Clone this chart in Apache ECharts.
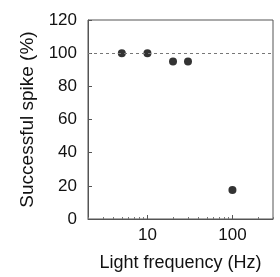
<!DOCTYPE html>
<html>
<head>
<meta charset="utf-8">
<script src="https://cdn.jsdelivr.net/npm/echarts@6/dist/echarts.min.js"></script>
<style>
  html, body { margin: 0; padding: 0; background: #fff; }
  #chart { width: 280px; height: 277px; }
</style>
</head>
<body>
<div id="chart"></div>
<script>
// values
const frequencies = [5, 10, 20, 30, 100]
const successRate = [100, 100, 95, 95, 17.5]
const majorTicks = [10, 100]
const minorTicks = [2, 3, 4, 5, 6, 7, 8, 9, 20, 30, 40, 50, 60, 70, 80, 90, 200, 300]
const referenceLevel = 100

const myChart = echarts.init(document.getElementById('chart'))
const font = 'Liberation Sans, Arial, sans-serif'

myChart.setOption({
    animation: false,
    grid: {
        left: 88, top: 20, right: 7, bottom: 51,
        show: true, borderColor: '#555', borderWidth: 1
    },
    xAxis: [
        {
            type: 'log', logBase: 10, min: 2, max: 300,
            name: 'Light frequency (Hz)',
            nameLocation: 'middle', nameGap: 35,
            nameTextStyle: { fontFamily: font, fontSize: 18, color: '#111' },
            axisLine: { lineStyle: { color: '#555' } },
            axisTick: { inside: true, length: 4, customValues: majorTicks, lineStyle: { color: '#555' } },
            axisLabel: { customValues: majorTicks, margin: 8, fontFamily: font, fontSize: 17, color: '#111' },
            splitLine: { show: false }
        },
        {
            // minor log ticks only
            type: 'log', logBase: 10, min: 2, max: 300, position: 'bottom',
            axisLine: { show: false },
            axisTick: { inside: true, length: 2, customValues: minorTicks, lineStyle: { color: '#777' } },
            axisLabel: { show: false },
            splitLine: { show: false }
        }
    ],
    yAxis: {
        type: 'value', min: 0, max: 120, interval: 20,
        name: 'Successful spike (%)',
        nameLocation: 'middle', nameGap: 45, nameRotate: 90,
        nameTextStyle: { fontFamily: font, fontSize: 19, color: '#111' },
        axisLine: { show: true, lineStyle: { color: '#555' } },
        axisTick: { show: true, inside: true, length: 4, lineStyle: { color: '#555' } },
        axisLabel: { margin: 11, fontFamily: font, fontSize: 17, color: '#111' },
        splitLine: { show: false }
    },
    series: [
        {
            type: 'scatter',
            symbolSize: 8,
            itemStyle: { color: '#000' },
            data: frequencies.map((f, i) => [f, successRate[i]]),
            markLine: {
                silent: true,
                symbol: 'none',
                label: { show: false },
                lineStyle: { color: '#777', type: [3, 3], width: 1 },
                data: [{ yAxis: referenceLevel }]
            }
        }
    ]
})
</script>
</body>
</html>
